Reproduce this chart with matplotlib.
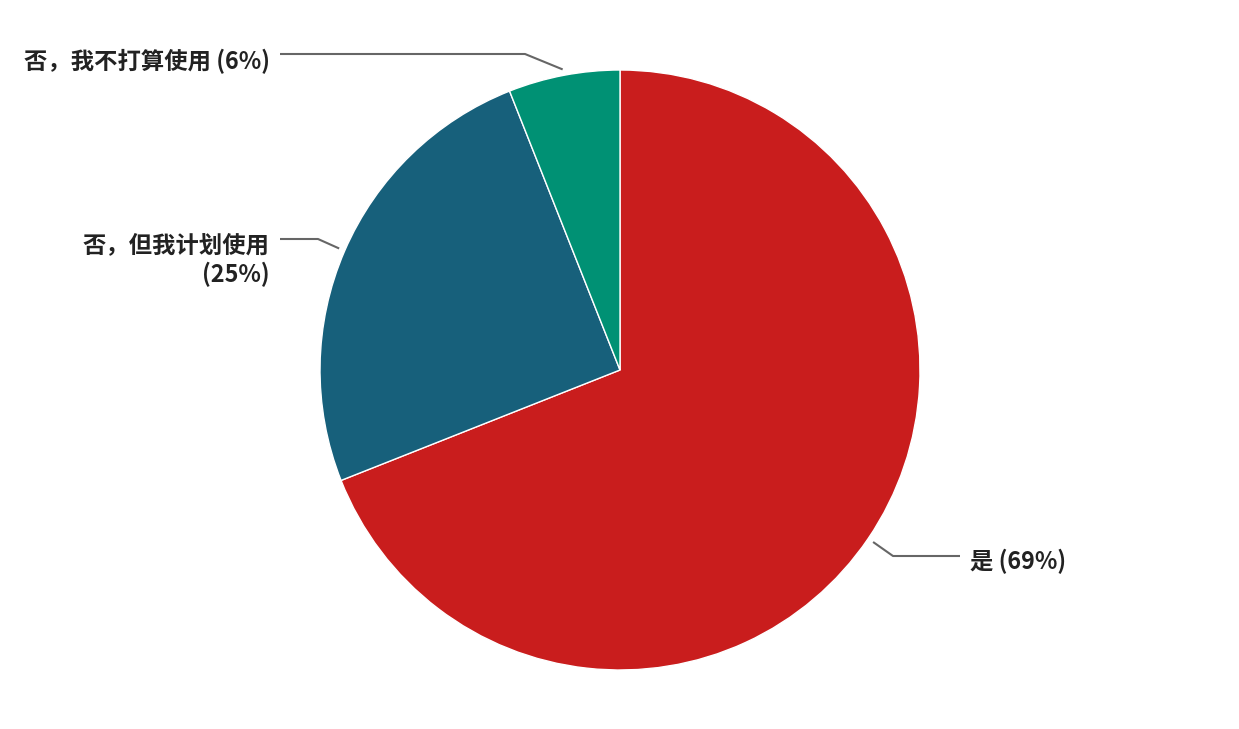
import numpy as np
import matplotlib
matplotlib.use("Agg")
import matplotlib.pyplot as plt

plt.rcParams['font.family'] = ['Noto Sans CJK SC', 'DejaVu Sans']

labels = ["是 (69%)", "否，但我计划使用\n(25%)", "否，我不打算使用 (6%)"]
values = [69, 25, 6]
colors = ["#C91D1D", "#17607B", "#009174"]

W, H = 1239, 729
cx, cy, R = 620, 370, 300

fig = plt.figure(figsize=(W / 100, H / 100), dpi=100)
ax = fig.add_axes([0, 0, 1, 1])

wedges, _ = ax.pie(values, colors=colors, startangle=90, counterclock=False,
                   radius=1.0, center=(0, 0), frame=True,
                   wedgeprops=dict(edgecolor='white', linewidth=1.0))
ax.set_xlim((0 - cx) / R, (W - cx) / R)
ax.set_ylim((cy - H) / R, (cy - 0) / R)
ax.set_aspect('auto')
ax.axis('off')

def px(x, y):
    return ((x - cx) / R, (cy - y) / R)

# label layout (pixel positions): elbow, line end, text anchor, alignment
layout = [
    dict(elbow=(893, 556), end=(960, 556), text=(970, 561), ha='left'),
    dict(elbow=(318, 239), end=(280, 239), text=(270, 260), ha='right'),
    dict(elbow=(525, 54), end=(280, 54), text=(270, 61), ha='right'),
]

for w, lab, lay in zip(wedges, labels, layout):
    ang = np.deg2rad((w.theta1 + w.theta2) / 2)
    sx, sy = 1.02 * np.cos(ang), 1.02 * np.sin(ang)
    ex, ey = px(*lay['elbow'])
    fx, fy = px(*lay['end'])
    ax.plot([sx, ex, fx], [sy, ey, fy], color='#666666', lw=1.5,
            solid_capstyle='butt')
    tx, ty = px(*lay['text'])
    ax.text(tx, ty, lab, ha=lay['ha'], va='center', fontsize=16.8,
            fontweight='bold', color='#222222', linespacing=1.2,
            multialignment='right' if lay['ha'] == 'right' else 'left')

fig.savefig('out.png', dpi=100, facecolor='white')
